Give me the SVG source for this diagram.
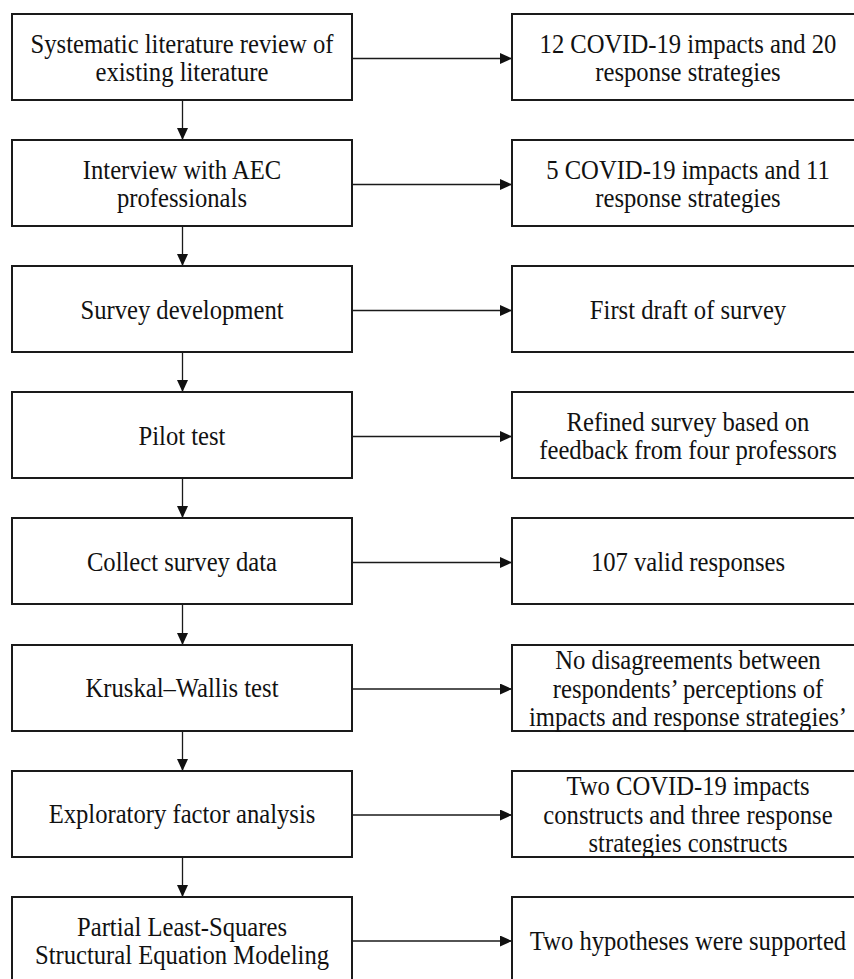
<svg xmlns="http://www.w3.org/2000/svg" width="854" height="979" viewBox="0 0 854 979">
<style>
.box{fill:#fff;stroke:#1a1a1a;stroke-width:2}
.con line{stroke:#1a1a1a;stroke-width:1.3}
.t{font-family:"Liberation Serif","Times New Roman",serif;font-size:28px;fill:#111;text-anchor:middle}
</style>
<defs>
<marker id="ah" markerWidth="12" markerHeight="11" refX="12" refY="5.5" orient="auto" markerUnits="userSpaceOnUse">
<path d="M0,0 L12,5.5 L0,11 Z" fill="#111"/>
</marker>
</defs>
<rect width="854" height="979" fill="#fff"/>
<g class="con">
<line x1="182.5" y1="100" x2="182.5" y2="140" marker-end="url(#ah)"/>
<line x1="182.5" y1="226" x2="182.5" y2="266" marker-end="url(#ah)"/>
<line x1="182.5" y1="352" x2="182.5" y2="392" marker-end="url(#ah)"/>
<line x1="182.5" y1="478" x2="182.5" y2="518" marker-end="url(#ah)"/>
<line x1="182.5" y1="604" x2="182.5" y2="645" marker-end="url(#ah)"/>
<line x1="182.5" y1="731" x2="182.5" y2="771" marker-end="url(#ah)"/>
<line x1="182.5" y1="857" x2="182.5" y2="897" marker-end="url(#ah)"/>
<line x1="352" y1="58.5" x2="512" y2="58.5" marker-end="url(#ah)"/>
<line x1="352" y1="184.5" x2="512" y2="184.5" marker-end="url(#ah)"/>
<line x1="352" y1="310.5" x2="512" y2="310.5" marker-end="url(#ah)"/>
<line x1="352" y1="436.5" x2="512" y2="436.5" marker-end="url(#ah)"/>
<line x1="352" y1="562.5" x2="512" y2="562.5" marker-end="url(#ah)"/>
<line x1="352" y1="689" x2="512" y2="689" marker-end="url(#ah)"/>
<line x1="352" y1="815" x2="512" y2="815" marker-end="url(#ah)"/>
<line x1="352" y1="941" x2="512" y2="941" marker-end="url(#ah)"/>
</g>
<g id="n1"><rect class="box" x="12" y="14" width="340" height="86"/>
<text class="t" transform="translate(182 0) scale(0.88 1)"><tspan x="0" y="53">Systematic literature review of</tspan><tspan x="0" y="81">existing literature</tspan></text></g>
<g id="r1"><rect class="box" x="512" y="14" width="352" height="86"/>
<text class="t" transform="translate(688 0) scale(0.88 1)"><tspan x="0" y="53">12 COVID-19 impacts and 20</tspan><tspan x="0" y="81">response strategies</tspan></text></g>
<g id="n2"><rect class="box" x="12" y="140" width="340" height="86"/>
<text class="t" transform="translate(182 0) scale(0.88 1)"><tspan x="0" y="179">Interview with AEC</tspan><tspan x="0" y="207">professionals</tspan></text></g>
<g id="r2"><rect class="box" x="512" y="140" width="352" height="86"/>
<text class="t" transform="translate(688 0) scale(0.88 1)"><tspan x="0" y="179">5 COVID-19 impacts and 11</tspan><tspan x="0" y="207">response strategies</tspan></text></g>
<g id="n3"><rect class="box" x="12" y="266" width="340" height="86"/>
<text class="t" transform="translate(182 0) scale(0.88 1)" x="0" y="319">Survey development</text></g>
<g id="r3"><rect class="box" x="512" y="266" width="352" height="86"/>
<text class="t" transform="translate(688 0) scale(0.88 1)" x="0" y="319">First draft of survey</text></g>
<g id="n4"><rect class="box" x="12" y="392" width="340" height="86"/>
<text class="t" transform="translate(182 0) scale(0.88 1)" x="0" y="445">Pilot test</text></g>
<g id="r4"><rect class="box" x="512" y="392" width="352" height="86"/>
<text class="t" transform="translate(688 0) scale(0.88 1)"><tspan x="0" y="431">Refined survey based on</tspan><tspan x="0" y="459">feedback from four professors</tspan></text></g>
<g id="n5"><rect class="box" x="12" y="518" width="340" height="86"/>
<text class="t" transform="translate(182 0) scale(0.88 1)" x="0" y="571">Collect survey data</text></g>
<g id="r5"><rect class="box" x="512" y="518" width="352" height="86"/>
<text class="t" transform="translate(688 0) scale(0.88 1)" x="0" y="571">107 valid responses</text></g>
<g id="n6"><rect class="box" x="12" y="645" width="340" height="86"/>
<text class="t" transform="translate(182 0) scale(0.88 1)" x="0" y="697">Kruskal–Wallis test</text></g>
<g id="r6"><rect class="box" x="512" y="645" width="352" height="86"/>
<text class="t" transform="translate(688 0) scale(0.88 1)"><tspan x="0" y="669">No disagreements between</tspan><tspan x="0" y="698">respondents’ perceptions of</tspan><tspan x="0" y="726">impacts and response strategies’</tspan></text></g>
<g id="n7"><rect class="box" x="12" y="771" width="340" height="86"/>
<text class="t" transform="translate(182 0) scale(0.88 1)" x="0" y="823">Exploratory factor analysis</text></g>
<g id="r7"><rect class="box" x="512" y="771" width="352" height="86"/>
<text class="t" transform="translate(688 0) scale(0.88 1)"><tspan x="0" y="795">Two COVID-19 impacts</tspan><tspan x="0" y="824">constructs and three response</tspan><tspan x="0" y="852">strategies constructs</tspan></text></g>
<g id="n8"><rect class="box" x="12" y="897" width="340" height="86"/>
<text class="t" transform="translate(182 0) scale(0.88 1)"><tspan x="0" y="936">Partial Least-Squares</tspan><tspan x="0" y="964">Structural Equation Modeling</tspan></text></g>
<g id="r8"><rect class="box" x="512" y="897" width="352" height="86"/>
<text class="t" transform="translate(688 0) scale(0.88 1)" x="0" y="950">Two hypotheses were supported</text></g>
</svg>
